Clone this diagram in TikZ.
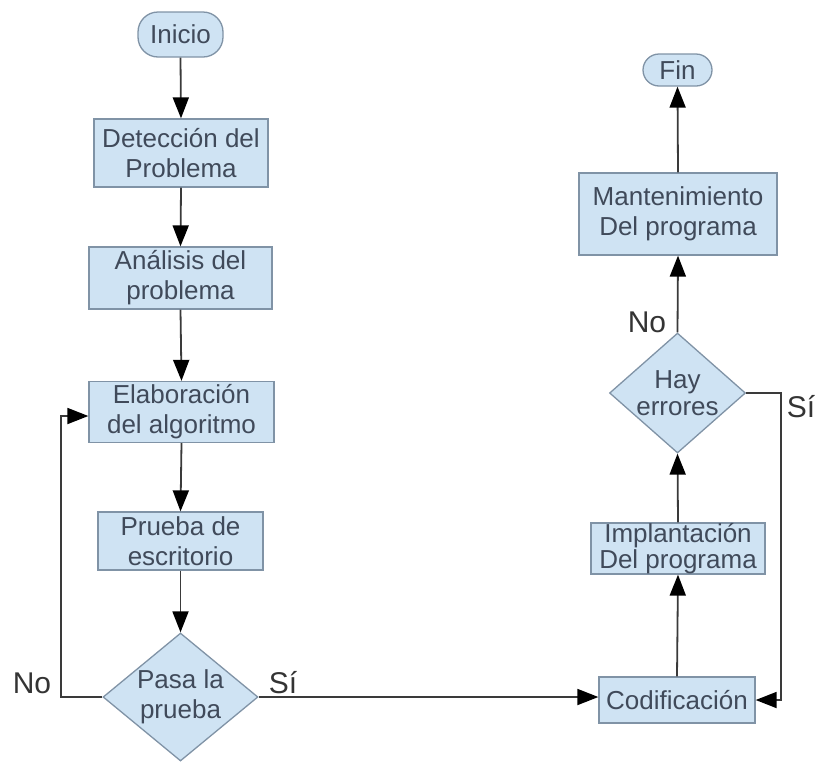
\documentclass[tikz,border=0pt]{standalone}
\usepackage{fontspec}
\setmainfont{Liberation Sans}
\usetikzlibrary{shapes.geometric,arrows.meta}
\definecolor{boxfill}{HTML}{CFE3F3}
\definecolor{boxdraw}{HTML}{8093A6}
\definecolor{boxtext}{HTML}{404A5A}
\definecolor{linec}{HTML}{3A3A3A}
\tikzset{
  stepbox/.style={draw=boxdraw, fill=boxfill, line width=1.3pt, text=boxtext, align=center,
    font=\fontsize{26}{30}\selectfont, inner sep=0pt},
  termbox/.style={stepbox, rounded corners=16pt},
  decbox/.style={stepbox, diamond, inner sep=-16pt},
  conn/.style={draw=linec, line width=1.8pt, -{Triangle[length=21pt,width=16pt,black]}},
  lbl/.style={text=linec!90!black, font=\fontsize{30}{32}\selectfont, inner sep=0pt}
}
\begin{document}
\begin{tikzpicture}[x=1pt,y=-1pt]
\useasboundingbox (0,0) rectangle (818,761);
\node[termbox, minimum width=85pt, minimum height=45pt, rounded corners=20pt] (inicio) at (180.5,34.5) {Inicio};
\node[stepbox, minimum width=174pt, minimum height=68pt] (det) at (181,153) {Detección del\\Problema};
\node[stepbox, minimum width=183pt, minimum height=62pt] (ana) at (180.5,278) {Análisis del\\problema};
\node[stepbox, minimum width=185pt, minimum height=61pt] (ela) at (181.5,412) {Elaboración\\del algoritmo};
\node[stepbox, minimum width=165pt, minimum height=58pt] (pru) at (180.5,541) {Prueba de\\escritorio};
\node[decbox, shape aspect=1.2, minimum width=155pt, minimum height=128pt] (pasa) at (180.5,697) {Pasa la\\prueba};
\node[stepbox, minimum width=156pt, minimum height=46pt] (cod) at (677,700) {Codificación};
\node[stepbox, minimum width=174pt, minimum height=51pt] (imp) at (678,548.5) {Implantación\\[-4pt]Del programa};
\node[decbox, shape aspect=1.13, minimum width=136pt, minimum height=120pt] (hay) at (677.5,393) {Hay\\[-3pt]errores};
\node[stepbox, minimum width=198pt, minimum height=82pt] (man) at (678,214) {Mantenimiento\\Del programa};
\node[termbox, minimum width=69pt, minimum height=32pt] (fin) at (677.5,70) {Fin};

\coordinate (nl) at (61,416);
\coordinate (sr) at (781,393);

\draw[conn] (inicio.south) -- (det.north);
\draw[conn] (det.south) -- (ana.north);
\draw[conn] (ana.south) -- (ela.north);
\draw[conn] (ela.south) -- (pru.north);
\draw[conn] (pru.south) -- (pasa.north);
\draw[conn] (pasa.west) -| (nl) -- (nl -| ela.west);
\draw[conn] (pasa.east) -- (pasa.east -| cod.west);
\draw[conn] (cod.north) -- (imp.south);
\draw[conn] (imp.north) -- (hay.south);
\draw[conn] (hay.north) -- (man.south);
\draw[conn] (man.north) -- (fin.south);
\draw[conn] (hay.east) -- (sr) |- (cod.east);

\node[lbl] (lno1) at (32,683) {No};
\node[lbl] (lsi1) at (283,683) {Sí};
\node[lbl] (lno2) at (647,322) {No};
\node[lbl] (lsi2) at (801,407) {Sí};
\end{tikzpicture}
\end{document}
